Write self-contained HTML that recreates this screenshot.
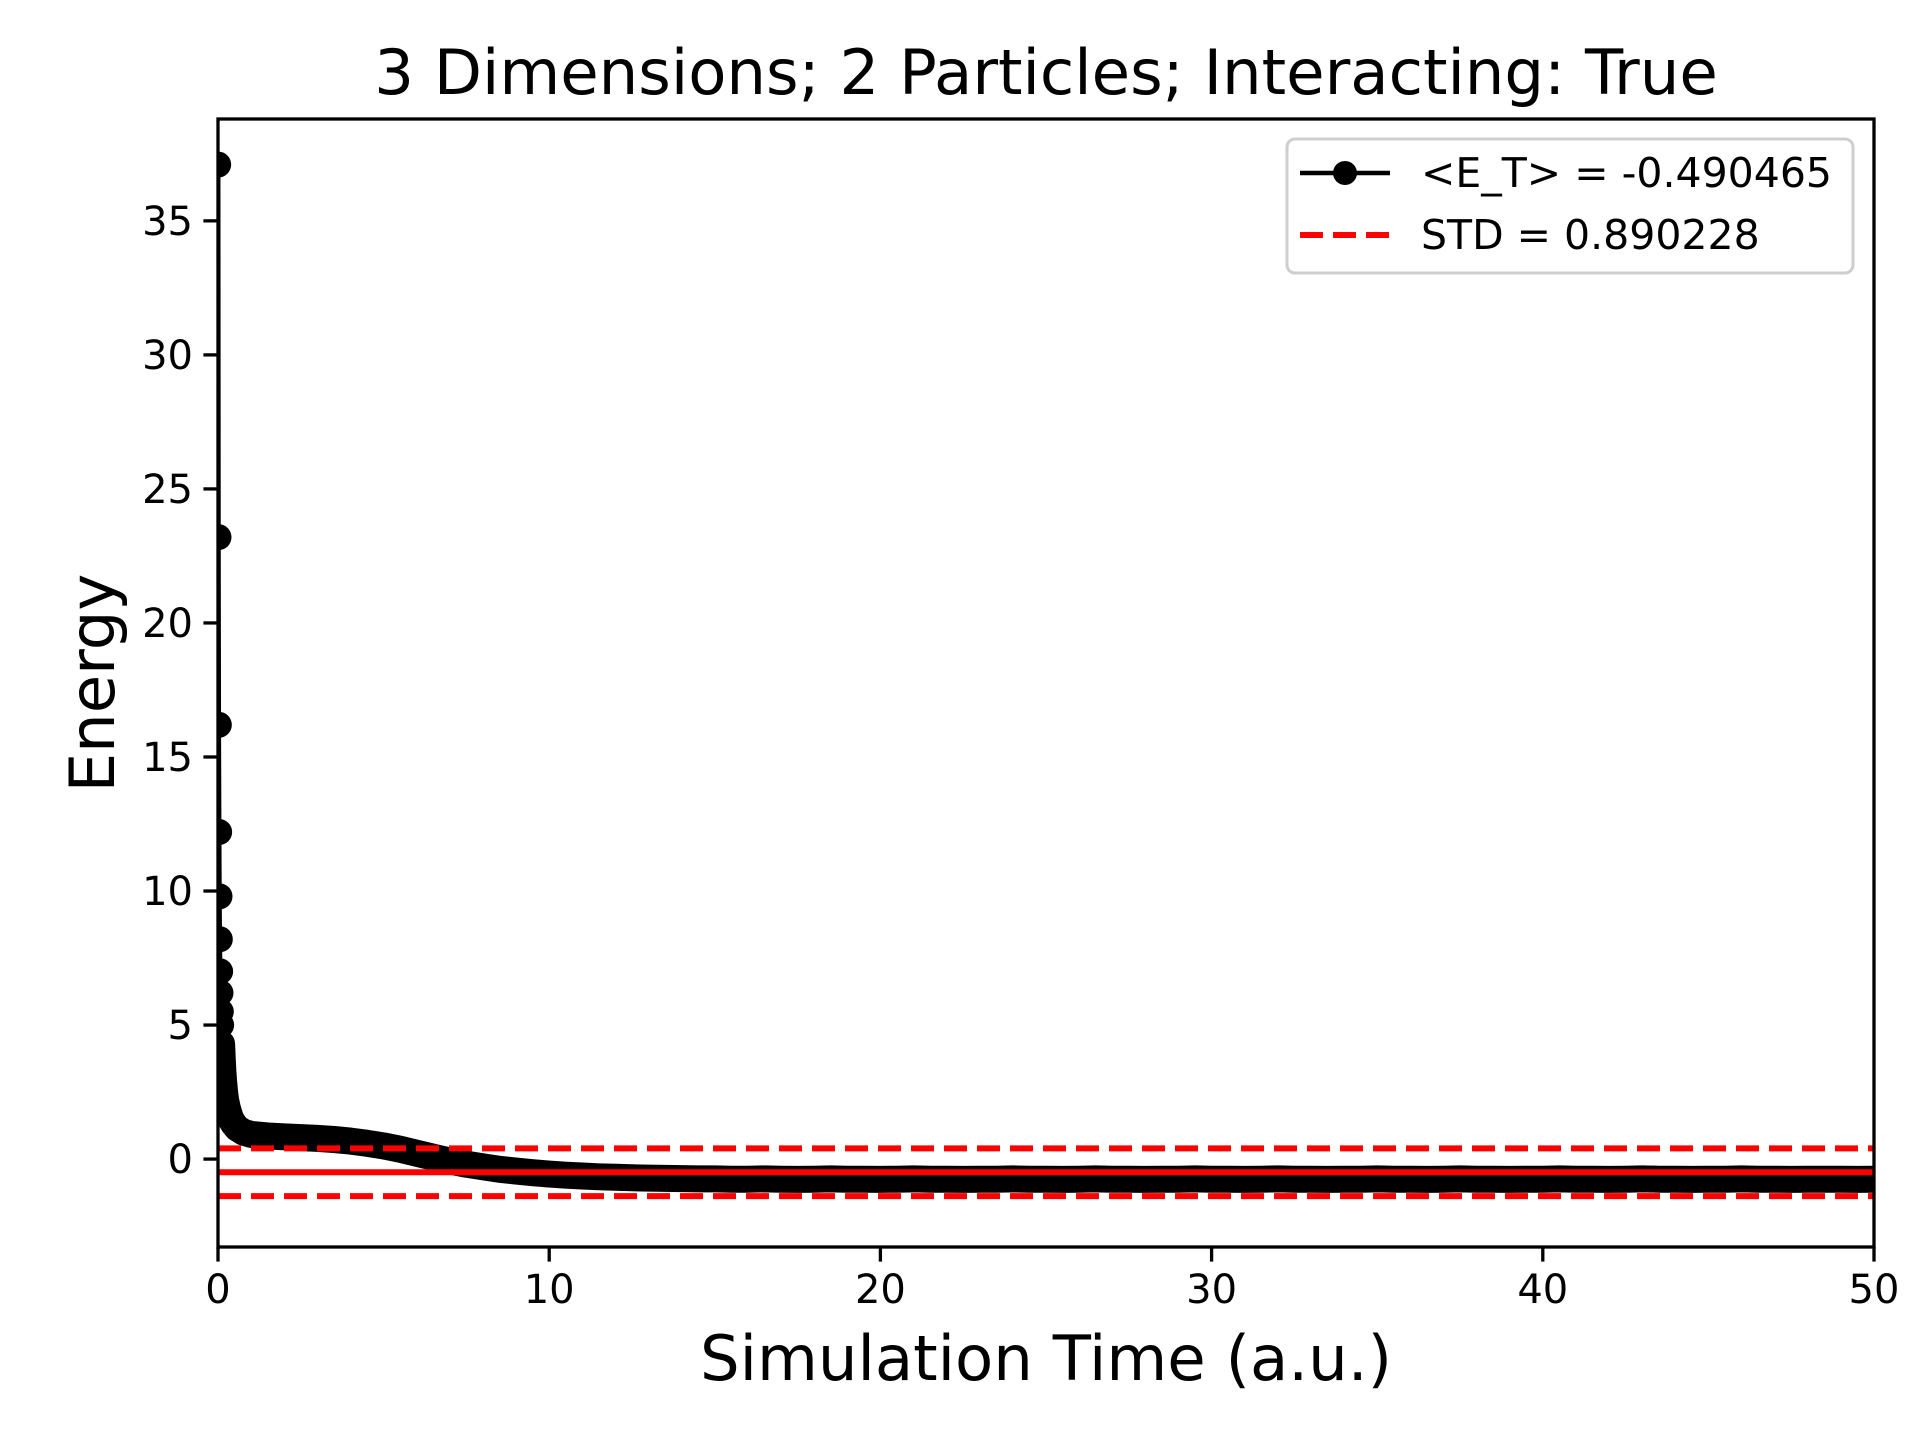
<!DOCTYPE html>
<html><head><meta charset="utf-8"><style>
html,body{margin:0;padding:0;background:#fff;}
svg{display:block;font-family:"DejaVu Sans","Liberation Sans",sans-serif;}
</style></head><body>
<svg id="chart" width="1920" height="1440" viewBox="0 0 1920 1440" xmlns="http://www.w3.org/2000/svg">
<rect width="1920" height="1440" fill="#fff"/>
<defs><clipPath id="plotclip"><rect x="218" y="119" width="1656" height="1128"/></clipPath></defs>
<text x="1046" y="94" font-size="62.5" text-anchor="middle">3 Dimensions; 2 Particles; Interacting: True</text>
<text x="1046" y="1380" font-size="62.5" text-anchor="middle">Simulation Time (a.u.)</text>
<text x="0" y="0" font-size="62.5" text-anchor="middle" transform="translate(114,683) rotate(-90)">Energy</text>
<g id="plot" clip-path="url(#plotclip)"></g>
<g id="axes"></g>
<g>
<rect x="1287" y="139" width="566" height="134" rx="8" fill="#fff" stroke="#ccc" stroke-width="3" opacity="0.95"/>
<line x1="1300" y1="173" x2="1390" y2="173" stroke="#000" stroke-width="4.5"/>
<circle cx="1345" cy="173" r="12" fill="#000"/>
<text x="1421" y="187" font-size="41">&lt;E_T&gt; = -0.490465</text>
<line x1="1300" y1="235" x2="1390" y2="235" stroke="#f00" stroke-width="6" stroke-dasharray="23,10"/>
<text x="1421" y="249" font-size="41">STD = 0.890228</text>
</g>
</svg>
<script>
const times = [0.005,0.015,0.025,0.035,0.045,0.055,0.065,0.075,0.085,0.095,0.11,0.13,0.15,0.17,0.19,0.23,0.28,0.33,0.38,0.48,0.58,0.78,1.0,
1.5,2,2.5,3,3.5,4,4.5,5,5.5,6,6.5,7,7.5,8,8.5,9,9.5,10,10.5,11,11.5,12,12.5,13,13.5,14,
14.5,15,15.5,16,16.5,17,17.5,18,18.5,19,19.5,20,20.5,21,21.5,22,22.5,23,23.5,24,24.5,25,25.5,26,26.5,27,27.5,28,28.5,29,29.5,30,
30.5,31,31.5,32,32.5,33,33.5,34,34.5,35,35.5,36,36.5,37,37.5,38,38.5,39,39.5,40,40.5,41,41.5,42,42.5,43,43.5,44,44.5,45,45.5,46,46.5,47,47.5,48,48.5,49,49.5,50,50.5];
const energies = [37.1,23.2,16.2,12.2,9.8,8.2,7.0,6.2,5.5,5.0,4.3,3.7,3.2,2.9,2.6,2.2,1.9,1.7,1.5,1.3,1.15,1.0,0.92,
0.86,0.83,0.80,0.77,0.73,0.67,0.59,0.49,0.37,0.22,0.07,-0.07,-0.19,-0.29,-0.38,-0.45,-0.51,-0.56,-0.60,-0.63,-0.66,-0.68,-0.70,-0.71,-0.72,-0.73,
-0.74,-0.74,-0.75,-0.75,-0.74,-0.75,-0.76,-0.75,-0.74,-0.75,-0.75,-0.76,-0.75,-0.74,-0.75,-0.75,-0.76,-0.75,-0.75,-0.74,-0.75,-0.75,-0.76,-0.75,-0.74,-0.75,-0.75,-0.76,-0.75,-0.75,-0.74,-0.75,
-0.75,-0.76,-0.75,-0.74,-0.75,-0.75,-0.76,-0.75,-0.75,-0.74,-0.75,-0.75,-0.76,-0.75,-0.74,-0.75,-0.75,-0.76,-0.75,-0.75,-0.74,-0.75,-0.75,-0.76,-0.75,-0.74,-0.75,-0.75,-0.76,-0.75,-0.75,-0.74,-0.75,-0.75,-0.76,-0.75,-0.75,-0.75,-0.76,
-0.75,-0.74,-0.75,-0.76,-0.75,-0.75,-0.74,-0.75,-0.76,-0.75];
const meanEnergy = -0.490465;
const stdEnergy = 0.890228;
const xTicks = [0,10,20,30,40,50];
const yTicks = [0,5,10,15,20,25,30,35];

const NS = "http://www.w3.org/2000/svg";
const X0=218, X1=1874, Y0=1247, Y1=119, xmin=0, xmax=50, ymin=-3.28, ymax=38.8;
function sx(v){return X0+(v-xmin)/(xmax-xmin)*(X1-X0);}
function sy(v){return Y0-(v-ymin)/(ymax-ymin)*(Y0-Y1);}
function mk(tag, attrs, parent){const e=document.createElementNS(NS,tag);for(const k in attrs)e.setAttribute(k,attrs[k]);parent.appendChild(e);return e;}
const plot=document.getElementById('plot'), axes=document.getElementById('axes');
const n=Math.min(times.length, energies.length);

let d='', dBand='';
for(let i=0;i<n;i++){
  const p=sx(times[i]).toFixed(1)+','+sy(energies[i]).toFixed(1);
  d+=(i?'L':'M')+p;
  if(times[i]>=0.1) dBand+=(dBand?'L':'M')+p;
}
const thin=mk('path',{d:d,fill:'none',stroke:'#000','stroke-width':4.5,'stroke-linejoin':'round'},plot);


const band=mk('path',{d:dBand,fill:'none',stroke:'#000','stroke-width':27,'stroke-linejoin':'round','stroke-linecap':'round'},plot);


for(let i=0;i<n;i++){
  const c=mk('circle',{cx:sx(times[i]),cy:sy(energies[i]),r:13,fill:'#000'},plot);
  
  
}
const ml=mk('line',{x1:X0,x2:X1,y1:sy(meanEnergy),y2:sy(meanEnergy),stroke:'#f00','stroke-width':6},plot);


[meanEnergy+stdEnergy, meanEnergy-stdEnergy].forEach((v,i)=>{
  const l=mk('line',{x1:X0,x2:X1,y1:sy(v),y2:sy(v),stroke:'#f00','stroke-width':6,'stroke-dasharray':'23,10'},plot);
  
  
});
const frame=mk('rect',{x:X0,y:Y1,width:X1-X0,height:Y0-Y1,fill:'none',stroke:'#000','stroke-width':3.3},axes);


xTicks.forEach(v=>{
  mk('line',{x1:sx(v),x2:sx(v),y1:Y0,y2:Y0+14.6,stroke:'#000','stroke-width':3.3},axes);
  const t=mk('text',{x:sx(v),y:Y0+56,'font-size':40,'text-anchor':'middle'},axes);
  t.textContent=v;
  
  
});
yTicks.forEach(v=>{
  mk('line',{x1:X0-14.6,x2:X0,y1:sy(v),y2:sy(v),stroke:'#000','stroke-width':3.3},axes);
  const t=mk('text',{x:X0-25,y:sy(v)+14,'font-size':40,'text-anchor':'end'},axes);
  t.textContent=v;
  
  
});
</script>
</body></html>
